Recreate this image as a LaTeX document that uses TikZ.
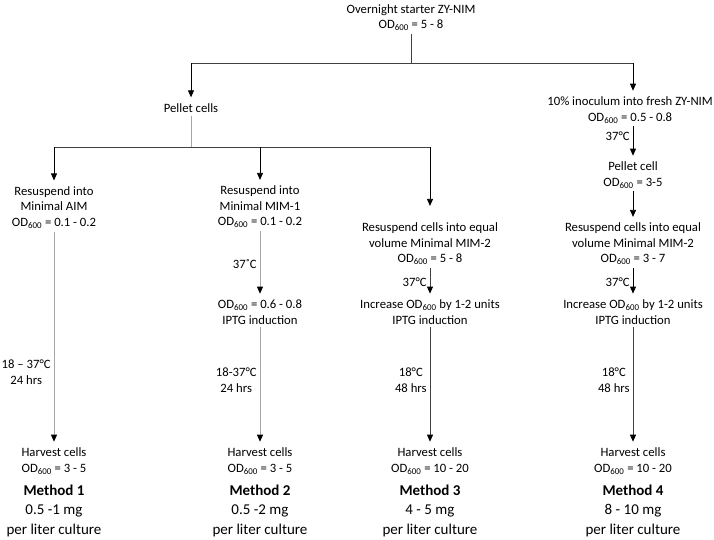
\documentclass[tikz,border=0pt]{standalone}
\usepackage{fontspec}
\setmainfont{Carlito}
\usetikzlibrary{arrows.meta,positioning}
\definecolor{linegray}{HTML}{A6A6A6}
\definecolor{linedark}{HTML}{404040}
\newcommand{\OD}{OD\textsubscript{600}}

\begin{document}
\begin{tikzpicture}[x=1pt, y=-1pt,
    every node/.style={font=\fontsize{12.7}{15.5}\selectfont, align=center, inner sep=3pt, text=black},
    flow/.style={-{Triangle[width=6pt,length=7pt,black]}, line width=0.8pt, shorten >=3pt},
    bar/.style={line width=0.8pt, linedark},
    result/.style={font=\fontsize{15}{19.5}\selectfont}]
    \useasboundingbox (0,0) rectangle (714,539);

    % Parameters
    \def\xA{54}
    \def\xB{260}
    \def\xC{430}
    \def\xD{633}

    % Starter and first split
    \node (T) at (411,17.5) {Overnight starter ZY-NIM\\\OD{} = 5 - 8};
    \node (P) at (191,108) {Pellet cells};
    \node[anchor=east, inner xsep=1pt] (R1) at (714,110) {10\% inoculum into fresh ZY-NIM\\\OD{} = 0.5 - 0.8};
    \coordinate (JL) at (191,63);
    \coordinate (JR) at (\xD,63);
    \draw[bar] (T) -- (T |- JL);
    \draw[bar] (JL) -- (JR);
    \draw[flow] (JL) -- (P);
    \draw[flow] (JR) -- (JR |- R1.north);

    % Pellet cells split
    \coordinate (JA) at (\xA,147);
    \coordinate (JC) at (\xC,147);
    \draw[line width=0.8pt, linegray] (P) -- (P |- JA);
    \draw[bar] (JA) -- (JC);

    % Method 1
    \node (A1) at (\xA,207.5) {Resuspend into\\Minimal AIM\\\OD{} = 0.1 - 0.2};
    \draw[flow] (JA) -- (A1);
    
    % Method 2
    \node (B1) at (\xB,207) {Resuspend into\\Minimal MIM-1\\\OD{} = 0.1 - 0.2};
    \node (B2) at (\xB,312) {\OD{} = 0.6 - 0.8\\IPTG induction};
    \draw[flow] (JA -| B1) -- (B1);

    % Method 3
    \node (C1) at (\xC,244) {Resuspend cells into equal\\volume Minimal MIM-2\\\OD{} = 5 - 8};
    \node (C2) at (\xC,312) {Increase \OD{} by 1-2 units\\IPTG induction};
    \draw[flow, shorten >=14pt] (JC) -- (C1);

    % Method 4
    \node (D1) at (\xD,175) {Pellet cell\\\OD{} = 3-5};
    \node (D2) at (\xD,244) {Resuspend cells into equal\\volume Minimal MIM-2\\\OD{} = 3 - 7};
    \node (D3) at (\xD,312) {Increase \OD{} by 1-2 units\\IPTG induction};

    % Harvest and yield
    \foreach \c/\x/\od/\mg in {1/\xA/{3 - 5}/{0.5 -1 mg}, 2/\xB/{3 - 5}/{0.5 -2 mg},
                               3/\xC/{10 - 20}/{4 - 5 mg}, 4/\xD/{10 - 20}/{8 - 10 mg}} {
        \node (H\c) at (\x,461) {Harvest cells\\\OD{} = \od};
        \node[result] (Y\c) at (\x,510.5) {\textbf{Method \c}\\\mg\\per liter culture};
    }

    % Incubation steps
    \draw[flow, linegray] (A1) -- node[left, pos=0.66] {18 – 37°C\\24 hrs} (H1);
    \draw[flow, linegray] (B1) -- node[left, midway] {37˚C} (B2);
    \draw[flow, linegray] (B2) -- node[left, pos=0.45] {18-37°C\\24 hrs} (H2);
    \draw[flow, linedark] (C1) -- node[left, midway] {37°C} (C2);
    \draw[flow, linedark] (C2) -- node[left, pos=0.45] {18°C\\48 hrs} (H3);
    \draw[flow] (R1.south -| D1) -- node[left, pos=0.3] {37°C} (D1);
    \draw[flow] (D1) -- (D2);
    \draw[flow] (D2) -- node[left, midway] {37°C} (D3);
    \draw[flow, linedark] (D3) -- node[left, pos=0.45] {18°C\\48 hrs} (H4);

\end{tikzpicture}
\end{document}
